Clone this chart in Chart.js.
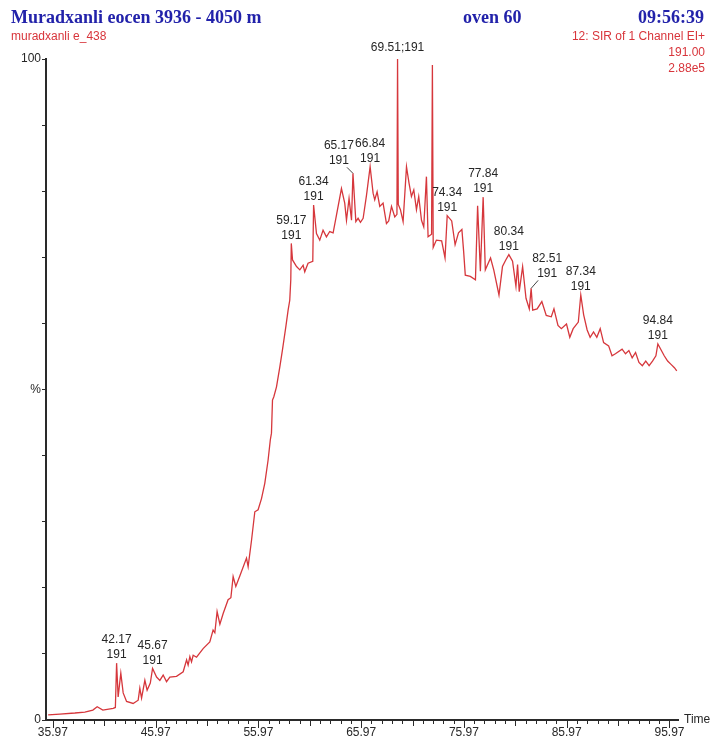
<!DOCTYPE html>
<html>
<head>
<meta charset="utf-8">
<title>Muradxanli eocen 3936 - 4050 m</title>
<script src="https://cdn.jsdelivr.net/npm/chart.js@4/dist/chart.umd.min.js"></script>
<style>
  html, body { margin: 0; padding: 0; background: #fff; }
  #wrap { position: relative; width: 717px; height: 744px; overflow: hidden; }
  #c { position: absolute; left: 0; top: 0; }
  .hd { position: absolute; white-space: nowrap; line-height: 1; }
  .t { font: bold 18px "Liberation Serif", "Times New Roman", serif; color: #2222aa; top: 7px; }
  .r { font: 12px "Liberation Sans", Arial, sans-serif; color: #d8353b; }
</style>
</head>
<body>
<div id="wrap">
  <canvas id="c" width="717" height="744"></canvas>
  <div class="hd t" style="left:11px">Muradxanli eocen 3936 - 4050 m</div>
  <div class="hd t" style="left:463px">oven 60</div>
  <div class="hd t" style="right:13px">09:56:39</div>
  <div class="hd r" style="left:11px;top:29px">muradxanli e_438</div>
  <div class="hd r" style="right:12px;top:29px">12: SIR of 1 Channel EI+</div>
  <div class="hd r" style="right:12px;top:45px">191.00</div>
  <div class="hd r" style="right:12px;top:61px">2.88e5</div>
</div>
<script>
// SIR trace, m/z 191: retention time (min) and relative intensity (%)
const retentionTimes = [
  35.51, 36.65, 38.11, 39.08, 39.86, 40.28, 40.83, 41.84, 42.05, 42.17,
  42.32, 42.58, 42.81, 43.14, 43.78, 44.27, 44.43, 44.60, 44.92, 45.14,
  45.45, 45.67, 46.06, 46.38, 46.70, 47.03, 47.35, 48.00, 48.65, 48.98,
  49.13, 49.30, 49.46, 49.62, 49.95, 50.59, 51.24, 51.56, 51.73, 51.95,
  52.22, 52.54, 53.02, 53.29, 53.51, 53.77, 54.16, 54.81, 54.97, 55.30,
  55.62, 55.94, 56.27, 56.59, 56.91, 57.13, 57.24, 57.34, 57.47, 57.73,
  58.05, 58.31, 58.64, 58.86, 59.02, 59.12, 59.17, 59.29, 59.68, 60.00,
  60.32, 60.48, 60.80, 61.26, 61.34, 61.62, 61.94, 62.26, 62.59, 62.91,
  63.24, 63.57, 64.05, 64.37, 64.54, 64.79, 65.03, 65.17, 65.45, 65.67,
  65.90, 66.16, 66.49, 66.84, 67.13, 67.29, 67.52, 67.78, 68.10, 68.43,
  68.65, 68.92, 69.24, 69.45, 69.51, 69.58, 69.79, 70.05, 70.38, 70.63,
  70.86, 71.09, 71.35, 71.57, 71.84, 72.06, 72.32, 72.48, 72.82, 72.90,
  72.98, 73.29, 73.80, 74.13, 74.34, 74.78, 75.11, 75.44, 75.77, 75.94,
  76.10, 76.59, 77.09, 77.30, 77.57, 77.84, 78.05, 78.56, 78.87, 79.38,
  79.72, 80.04, 80.34, 80.70, 81.03, 81.19, 81.35, 81.68, 82.01, 82.33,
  82.51, 82.66, 83.09, 83.55, 83.98, 84.47, 84.73, 85.12, 85.45, 85.95,
  86.27, 86.60, 87.10, 87.34, 87.62, 87.96, 88.25, 88.58, 88.90, 89.23,
  89.56, 90.05, 90.38, 90.71, 91.36, 91.69, 92.02, 92.34, 92.67, 93.00,
  93.33, 93.66, 93.99, 94.32, 94.65, 94.84, 95.46, 95.79, 96.12, 96.45,
  96.68
];
const intensities = [
  0.76, 0.9, 1.06, 1.2, 1.5, 2.0, 1.5, 1.77, 1.9, 8.6,
  3.5, 7.1, 4.1, 2.8, 2.5, 3.0, 4.8, 3.3, 6.0, 4.5,
  5.6, 7.8, 6.5, 6.0, 6.8, 5.8, 6.5, 6.6, 7.3, 9.1,
  8.3, 9.6, 8.8, 9.8, 9.5, 10.8, 11.8, 13.6, 13.2, 16.4,
  14.5, 16.1, 18.2, 18.5, 21.7, 20.2, 21.8, 24.5, 23.2, 27.2,
  31.5, 31.8, 33.5, 35.8, 39.3, 42.4, 43.4, 48.4, 48.9, 50.4,
  53.4, 56.0, 59.5, 62.0, 63.5, 66.6, 72.1, 69.6, 68.6, 68.1,
  68.8, 67.8, 69.1, 69.4, 77.9, 73.6, 72.6, 74.1, 73.1, 73.9,
  73.7, 76.4, 80.4, 78.2, 75.6, 78.9, 75.6, 82.7, 75.4, 75.9,
  75.3, 75.9, 79.4, 83.7, 79.7, 78.7, 79.9, 77.7, 78.2, 75.1,
  75.5, 77.7, 76.1, 76.5, 100, 78.0, 77.2, 75.4, 83.7, 81.2,
  79.2, 80.2, 77.2, 79.2, 75.6, 74.6, 82.2, 73.1, 73.5, 99.1,
  71.5, 72.6, 72.5, 69.9, 76.3, 75.5, 71.9, 73.7, 74.2, 70.9,
  67.3, 67.1, 66.6, 77.8, 67.9, 79.1, 68.1, 69.9, 68.1, 64.3,
  68.6, 69.6, 70.4, 69.4, 65.6, 68.9, 64.8, 68.6, 63.8, 62.2,
  65.3, 62.0, 62.2, 63.3, 61.2, 61.0, 62.2, 59.7, 59.2, 59.9,
  57.9, 59.2, 60.2, 64.3, 61.3, 59.0, 57.9, 58.7, 57.9, 59.2,
  57.1, 56.6, 55.1, 55.4, 56.1, 55.4, 55.9, 54.8, 55.6, 54.1,
  53.6, 54.3, 53.6, 54.3, 55.1, 56.9, 55.1, 54.3, 53.8, 53.3,
  52.8
];
// Labelled peaks (retention time) and their ion
const peakTimes = [42.17, 45.67, 59.17, 61.34, 65.17, 66.84, 69.51, 74.34, 77.84, 80.34, 82.51, 87.34, 94.84];
const peakMass = 191;
// Time axis labels
const timeLabels = [35.97, 45.97, 55.97, 65.97, 75.97, 85.97, 95.97];
// Intensity axis labels
const intensityLabels = { 0: '0', 50: '%', 100: '100' };

// Label placement tweaks for crowded peaks
const labelStyle = {
  65.17: { dx: -14, dy: -5, leader: true },
  82.51: { dx: 16, dy: -7, leader: true },
  69.51: { single: true }
};

const axisColor = '#2a2a2a';
const textColor = '#262626';
const traceColor = '#d6373c';
const labelFont = '12px "Liberation Sans", Arial, sans-serif';

const points = retentionTimes.map((t, i) => ({ x: t, y: intensities[i] }));

const decorations = {
  id: 'decorations',
  afterDatasetsDraw(chart) {
    const { ctx, chartArea, scales: { x, y } } = chart;
    ctx.save();
    // minor / major tick marks along the time axis, one per minute
    ctx.strokeStyle = axisColor;
    ctx.lineWidth = 1;
    for (let k = 0; k <= 60; k++) {
      const v = timeLabels[0] + k;
      const px = Math.round(x.getPixelForValue(v)) + 0.5;
      const len = k % 10 === 0 ? 7 : (k % 5 === 0 ? 5 : 3);
      ctx.beginPath();
      ctx.moveTo(px, chartArea.bottom);
      ctx.lineTo(px, chartArea.bottom + 1 + len);
      ctx.stroke();
    }
    // axis title at the end of the time axis
    ctx.fillStyle = textColor;
    ctx.font = labelFont;
    ctx.textAlign = 'left';
    ctx.textBaseline = 'middle';
    ctx.fillText('Time', chartArea.right + 6, chartArea.bottom);

    // peak annotations
    ctx.textAlign = 'center';
    ctx.textBaseline = 'middle';
    peakTimes.forEach(t => {
      const i = retentionTimes.indexOf(t);
      const px = x.getPixelForValue(t);
      const py = y.getPixelForValue(intensities[i]);
      const st = labelStyle[t] || {};
      const dx = st.dx || 0, dy = st.dy || 0;
      if (st.single) {
        ctx.fillText(t.toFixed(2) + ';' + peakMass, px + dx, py - 11 + dy);
        return;
      }
      ctx.fillText(t.toFixed(2), px + dx, py - 23 + dy);
      ctx.fillText(String(peakMass), px + dx, py - 8 + dy);
      if (st.leader) {
        ctx.strokeStyle = '#444';
        ctx.lineWidth = 1;
        ctx.beginPath();
        const sx = dx < 0 ? px + dx + 8 : px + dx - 9;
        ctx.moveTo(sx, py + dy - 1);
        ctx.lineTo(px, py);
        ctx.stroke();
      }
    });
    ctx.restore();
  }
};

new Chart(document.getElementById('c'), {
  type: 'line',
  data: {
    datasets: [{
      data: points,
      borderColor: traceColor,
      borderWidth: 1.3,
      pointRadius: 0,
      tension: 0,
      fill: false,
      clip: 6
    }]
  },
  options: {
    responsive: false,
    animation: false,
    events: [],
    layout: { padding: { left: 0, right: 39, top: 59, bottom: 0 } },
    plugins: { legend: { display: false }, tooltip: { enabled: false }, title: { display: false } },
    scales: {
      x: {
        type: 'linear',
        min: 35.3,
        max: 96.8,
        afterFit(s) { s.height = 24; },
        afterBuildTicks(s) { s.ticks = timeLabels.map(v => ({ value: v })); },
        border: { display: true, color: axisColor, width: 2 },
        grid: { drawOnChartArea: false, drawTicks: false },
        ticks: {
          autoSkip: false, maxRotation: 0, padding: 5,
          color: textColor, font: { size: 12, family: '"Liberation Sans", Arial, sans-serif' },
          callback: v => Number(v).toFixed(2)
        }
      },
      y: {
        min: 0,
        max: 100,
        afterFit(s) { s.width = 46; },
        border: { display: true, color: axisColor, width: 2 },
        grid: { drawOnChartArea: false, drawTicks: true, tickLength: 4, tickColor: axisColor, tickWidth: 1 },
        ticks: {
          stepSize: 10, padding: 1,
          color: textColor, font: { size: 12, family: '"Liberation Sans", Arial, sans-serif' },
          callback: v => intensityLabels[v] !== undefined ? intensityLabels[v] : ''
        }
      }
    }
  },
  plugins: [decorations]
});
</script>
</body>
</html>
